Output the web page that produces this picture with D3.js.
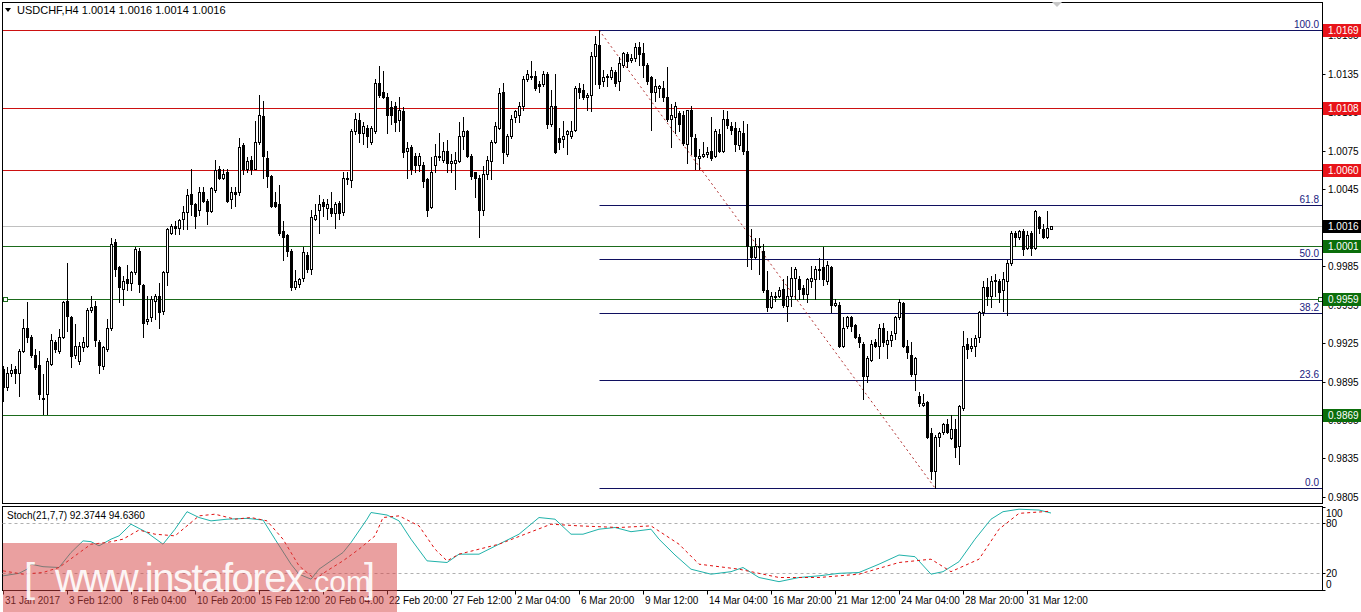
<!DOCTYPE html>
<html><head><meta charset="utf-8">
<script src="https://cdn.jsdelivr.net/npm/d3@7"></script>
<style>body{margin:0;background:#fff}svg{display:block}text{font-family:"Liberation Sans","DejaVu Sans",sans-serif}</style>
</head><body>
<svg id="c" width="1361" height="612"></svg>
<script>
// ---------- DATA ----------
const symbolTitle = "USDCHF,H4  1.0014 1.0016 1.0014 1.0016";
const stochTitle = "Stoch(21,7,7) 92.3744 94.6360";
const open=[0.9905,0.9891,0.9902,0.9905,0.9902,0.9919,0.9937,0.9930,0.9916,0.9908,
0.9882,0.9885,0.9909,0.9926,0.9919,0.9930,0.9958,0.9945,0.9916,0.9911,
0.9922,0.9923,0.9951,0.9954,0.9926,0.9907,0.9920,0.9937,1.0004,0.9984,
0.9967,0.9975,0.9972,0.9980,0.9997,0.9970,0.9942,0.9945,0.9958,0.9962,
0.9950,0.9980,1.0011,1.0016,1.0015,1.0022,1.0027,1.0041,1.0033,1.0029,
1.0043,1.0036,1.0028,1.0044,1.0061,1.0054,1.0058,1.0037,1.0043,1.0043,
1.0079,1.0061,1.0068,1.0061,1.0082,1.0102,1.0069,1.0055,1.0035,1.0033,
1.0012,1.0009,0.9997,0.9969,0.9971,0.9976,0.9994,0.9983,1.0022,1.0029,
1.0035,1.0030,1.0030,1.0026,1.0034,1.0027,1.0054,1.0052,1.0090,1.0099,
1.0089,1.0093,1.0082,1.0090,1.0128,1.0121,1.0117,1.0109,1.0110,1.0099,
1.0106,1.0075,1.0078,1.0071,1.0064,1.0064,1.0053,1.0031,1.0064,1.0071,
1.0068,1.0075,1.0065,1.0065,1.0067,1.0086,1.0090,1.0071,1.0058,1.0054,
1.0029,1.0057,1.0067,1.0082,1.0093,1.0121,1.0072,1.0086,1.0101,1.0103,
1.0110,1.0131,1.0133,1.0133,1.0127,1.0127,1.0135,1.0096,1.0110,1.0085,
1.0084,1.0088,1.0086,1.0091,1.0124,1.0122,1.0117,1.0118,1.0149,1.0157,
1.0129,1.0132,1.0132,1.0136,1.0129,1.0142,1.0150,1.0146,1.0147,1.0156,
1.0151,1.0142,1.0132,1.0121,1.0124,1.0124,1.0117,1.0100,1.0101,1.0104,
1.0103,1.0080,1.0107,1.0085,1.0069,1.0071,1.0072,1.0075,1.0071,1.0088,
1.0075,1.0100,1.0094,1.0093,1.0079,1.0089,1.0075,1.0000,0.9992,1.0001,
0.9997,0.9966,0.9953,0.9962,0.9962,0.9967,0.9954,0.9962,0.9976,0.9975,
0.9968,0.9963,0.9973,0.9975,0.9982,0.9984,0.9973,0.9984,0.9955,0.9955,
0.9923,0.9938,0.9945,0.9939,0.9930,0.9924,0.9899,0.9912,0.9926,0.9923,
0.9937,0.9924,0.9927,0.9933,0.9945,0.9956,0.9923,0.9916,0.9901,0.9884,
0.9877,0.9879,0.9855,0.9825,0.9852,0.9856,0.9862,0.9851,0.9858,0.9845,
0.9874,0.9924,0.9921,0.9923,0.9930,0.9949,0.9969,0.9962,0.9973,0.9973,
0.9966,0.9973,0.9987,1.0011,1.0008,1.0012,0.9999,1.0011,0.9999,1.0023,
1.0014,1.0008,1.0014];
const high=[0.9907,0.9906,0.9909,0.9907,0.9920,0.9944,0.9957,0.9931,0.9920,0.9919,
0.9901,0.9913,0.9932,0.9927,0.9936,0.9958,0.9987,0.9946,0.9940,0.9926,
0.9930,0.9952,0.9962,0.9958,0.9927,0.9923,0.9944,1.0007,1.0006,0.9985,
0.9977,0.9986,0.9981,1.0000,0.9999,0.9971,0.9962,0.9962,0.9963,0.9972,
0.9981,1.0015,1.0018,1.0020,1.0022,1.0032,1.0045,1.0061,1.0034,1.0047,
1.0047,1.0037,1.0047,1.0068,1.0063,1.0061,1.0061,1.0047,1.0047,1.0085,
1.0081,1.0070,1.0071,1.0098,1.0118,1.0114,1.0075,1.0056,1.0043,1.0048,
1.0020,1.0010,0.9998,0.9982,0.9976,1.0000,0.9996,1.0029,1.0033,1.0040,
1.0037,1.0037,1.0043,1.0035,1.0036,1.0058,1.0058,1.0092,1.0104,1.0104,
1.0097,1.0095,1.0094,1.0131,1.0141,1.0137,1.0120,1.0114,1.0113,1.0117,
1.0109,1.0082,1.0079,1.0073,1.0073,1.0066,1.0054,1.0070,1.0080,1.0089,
1.0082,1.0083,1.0072,1.0074,1.0097,1.0101,1.0091,1.0072,1.0058,1.0056,
1.0063,1.0071,1.0083,1.0097,1.0124,1.0128,1.0088,1.0103,1.0107,1.0113,
1.0133,1.0138,1.0145,1.0137,1.0129,1.0137,1.0136,1.0122,1.0135,1.0093,
1.0098,1.0091,1.0098,1.0125,1.0128,1.0127,1.0120,1.0152,1.0164,1.0169,
1.0138,1.0135,1.0140,1.0138,1.0148,1.0152,1.0152,1.0150,1.0159,1.0160,
1.0159,1.0143,1.0133,1.0131,1.0126,1.0129,1.0140,1.0111,1.0113,1.0106,
1.0106,1.0107,1.0110,1.0088,1.0076,1.0082,1.0078,1.0101,1.0092,1.0092,
1.0107,1.0106,1.0097,1.0097,1.0093,1.0098,1.0096,1.0014,1.0007,1.0007,
1.0002,0.9981,0.9965,0.9965,0.9969,0.9975,0.9977,0.9984,0.9984,0.9977,
0.9970,0.9976,0.9985,0.9985,0.9991,1.0000,0.9989,0.9985,0.9959,0.9957,
0.9945,0.9946,0.9946,0.9940,0.9932,0.9926,0.9915,0.9927,0.9928,0.9940,
0.9941,0.9934,0.9934,0.9946,0.9959,0.9957,0.9927,0.9926,0.9914,0.9887,
0.9885,0.9880,0.9859,0.9853,0.9856,0.9863,0.9866,0.9869,0.9866,0.9877,
0.9934,0.9929,0.9929,0.9931,0.9950,0.9973,0.9976,0.9977,0.9979,0.9975,
0.9980,0.9990,1.0012,1.0012,1.0013,1.0014,1.0012,1.0012,1.0029,1.0024,
1.0018,1.0028,1.0016];
const low=[0.9880,0.9888,0.9899,0.9894,0.9884,0.9918,0.9926,0.9914,0.9905,0.9881,
0.9870,0.9870,0.9908,0.9918,0.9917,0.9929,0.9934,0.9906,0.9913,0.9909,
0.9919,0.9922,0.9949,0.9923,0.9902,0.9905,0.9919,0.9935,0.9977,0.9957,
0.9955,0.9966,0.9966,0.9979,0.9965,0.9930,0.9940,0.9942,0.9944,0.9937,
0.9948,0.9970,1.0010,1.0010,1.0010,1.0014,1.0014,1.0025,1.0015,1.0025,
1.0035,1.0018,1.0027,1.0043,1.0053,1.0053,1.0035,1.0030,1.0032,1.0040,
1.0057,1.0058,1.0057,1.0061,1.0080,1.0054,1.0047,1.0031,1.0031,1.0009,
0.9990,0.9993,0.9966,0.9967,0.9969,0.9973,0.9980,0.9979,1.0021,1.0011,
1.0024,1.0022,1.0024,1.0015,1.0022,1.0025,1.0049,1.0047,1.0088,1.0082,
1.0080,1.0078,1.0080,1.0089,1.0117,1.0116,1.0089,1.0096,1.0090,1.0090,
1.0070,1.0054,1.0057,1.0058,1.0059,1.0047,1.0024,1.0030,1.0058,1.0068,
1.0066,1.0058,1.0058,1.0045,1.0066,1.0076,1.0070,1.0053,1.0039,1.0008,
1.0025,1.0053,1.0053,1.0081,1.0092,1.0065,1.0071,1.0085,1.0097,1.0097,
1.0107,1.0129,1.0131,1.0122,1.0121,1.0125,1.0093,1.0094,1.0073,1.0076,
1.0078,1.0072,1.0085,1.0090,1.0116,1.0115,1.0107,1.0106,1.0127,1.0124,
1.0125,1.0125,1.0131,1.0125,1.0122,1.0140,1.0140,1.0144,1.0145,1.0142,
1.0132,1.0127,1.0091,1.0114,1.0117,1.0114,1.0098,1.0078,1.0089,1.0090,
1.0079,1.0065,1.0072,1.0061,1.0061,1.0070,1.0070,1.0068,1.0070,1.0074,
1.0074,1.0093,1.0088,1.0075,1.0076,1.0072,0.9985,0.9983,0.9991,0.9979,
0.9965,0.9950,0.9952,0.9958,0.9961,0.9953,0.9942,0.9954,0.9959,0.9959,
0.9959,0.9957,0.9969,0.9959,0.9975,0.9970,0.9971,0.9949,0.9954,0.9922,
0.9922,0.9937,0.9934,0.9929,0.9922,0.9881,0.9895,0.9911,0.9922,0.9913,
0.9923,0.9913,0.9923,0.9928,0.9944,0.9922,0.9913,0.9899,0.9888,0.9876,
0.9876,0.9851,0.9819,0.9812,0.9845,0.9854,0.9855,0.9850,0.9836,0.9831,
0.9873,0.9913,0.9919,0.9915,0.9926,0.9947,0.9955,0.9953,0.9962,0.9957,
0.9950,0.9947,0.9986,1.0001,1.0006,0.9994,0.9998,0.9994,0.9998,1.0011,
1.0007,1.0007,1.0014];
const close=[0.9891,0.9902,0.9904,0.9902,0.9919,0.9937,0.9930,0.9916,0.9906,0.9885,
0.9881,0.9911,0.9927,0.9920,0.9930,0.9957,0.9946,0.9915,0.9923,0.9923,
0.9926,0.9951,0.9953,0.9927,0.9908,0.9922,0.9937,1.0002,0.9983,0.9969,
0.9973,0.9972,0.9980,0.9998,0.9971,0.9941,0.9944,0.9959,0.9962,0.9949,
0.9980,1.0014,1.0016,1.0015,1.0021,1.0027,1.0040,1.0033,1.0024,1.0043,
1.0036,1.0028,1.0046,1.0060,1.0054,1.0057,1.0036,1.0043,1.0041,1.0078,
1.0061,1.0067,1.0061,1.0082,1.0103,1.0071,1.0055,1.0032,1.0032,1.0011,
1.0008,0.9997,0.9969,0.9973,0.9975,0.9996,0.9983,1.0023,1.0025,1.0033,
1.0032,1.0033,1.0026,1.0033,1.0026,1.0054,1.0053,1.0090,1.0100,1.0089,
1.0094,1.0086,1.0093,1.0128,1.0118,1.0117,1.0103,1.0103,1.0097,1.0107,
1.0074,1.0077,1.0061,1.0064,1.0071,1.0051,1.0029,1.0058,1.0071,1.0070,
1.0075,1.0065,1.0067,1.0068,1.0086,1.0090,1.0071,1.0055,1.0054,1.0029,
1.0057,1.0068,1.0082,1.0094,1.0120,1.0074,1.0086,1.0100,1.0106,1.0110,
1.0131,1.0135,1.0132,1.0124,1.0125,1.0135,1.0096,1.0110,1.0074,1.0082,
1.0086,1.0090,1.0090,1.0124,1.0121,1.0117,1.0118,1.0149,1.0158,1.0127,
1.0132,1.0133,1.0138,1.0128,1.0143,1.0151,1.0145,1.0147,1.0156,1.0150,
1.0142,1.0129,1.0121,1.0125,1.0125,1.0117,1.0100,1.0103,1.0110,1.0096,
1.0081,1.0107,1.0086,1.0071,1.0071,1.0072,1.0074,1.0069,1.0090,1.0075,
1.0100,1.0095,1.0091,1.0080,1.0090,1.0075,1.0001,0.9992,1.0001,1.0000,
0.9966,0.9953,0.9962,0.9961,0.9966,0.9955,0.9962,0.9976,0.9983,0.9967,
0.9963,0.9975,0.9976,0.9983,0.9983,0.9975,0.9986,0.9955,0.9956,0.9923,
0.9937,0.9945,0.9938,0.9930,0.9926,0.9899,0.9913,0.9924,0.9923,0.9937,
0.9926,0.9927,0.9931,0.9945,0.9957,0.9923,0.9918,0.9901,0.9913,0.9878,
0.9878,0.9852,0.9825,0.9852,0.9855,0.9862,0.9856,0.9858,0.9844,0.9876,
0.9923,0.9920,0.9923,0.9929,0.9949,0.9969,0.9962,0.9973,0.9974,0.9965,
0.9975,0.9987,1.0011,1.0008,1.0012,0.9998,1.0009,0.9999,1.0028,1.0015,
1.0008,1.0015,1.0016];

const timeLabels=["31 Jan 2017","3 Feb 12:00","8 Feb 04:00","10 Feb 20:00","15 Feb 12:00","20 Feb 04:00","22 Feb 20:00","27 Feb 12:00","2 Mar 04:00","6 Mar 20:00","9 Mar 12:00","14 Mar 04:00","16 Mar 20:00","21 Mar 12:00","24 Mar 04:00","28 Mar 20:00","31 Mar 12:00"];
const timeLabelBars=[0,16,32,48,64,80,96,112,128,144,160,176,192,208,224,240,256];
const priceTicks=[0.9805,0.9835,0.9865,0.9895,0.9925,0.9955,0.9985,1.0015,1.0045,1.0075,1.0105,1.0135,1.0165];
const redLevels=[1.0169,1.0108,1.0060];
const greenLevels=[1.0001,0.9959,0.9869];
const currentPrice=1.0016;
const fibRatios=[100,61.8,50,38.2,23.6,0];
const fibHighPrice=1.0169, fibLowPrice=0.9812, fibHighBar=149, fibLowBar=233;
const stochLevels=[20,80];
const stochAxis=[100,80,20,0];
const stochMainBars=[0,4,6,7,10,14,17,20,22,24,27,29,32,36,40,43,46,49,52,56,61,65,68,72,74,77,79,82,85,87,91,92,96,99,102,106,111,114,119,124,129,134,138,142,145,149,153,157,162,164,168,172,177,182,185,189,194,199,204,209,214,219,224,228,232,235,239,243,247,250,254,259,262];
const stochMain=[17,20,25,31,28,27,45,59,58,53,61,65,79,69,55,73,94,87,83,85,86,84,61,31,19,13,25,35,45,57,85,93,90,83,61,35,33,43,43,55,67,87,85,67,67,73,75,70,73,61,42,25,19,22,27,15,10,15,17,20,21,31,42,40,19,22,34,61,85,94,97,96,92.4];
const stochSigBars=[0,5,10,14,18,22,26,30,34,38,43,46,49,53,58,62,66,70,74,78,81,85,89,93,95,99,104,108,111,114,124,137,144,154,162,169,174,184,194,204,214,224,232,237,244,249,254,262];
const stochSignal=[23,19,21,27,41,55,57,61,72,67,65,77,89,91,85,87,83,61,29,13,23,35,49,65,87,89,77,49,35,43,55,79,77,75,77,55,31,25,15,15,19,33,37,22,37,73,92,94.6];

// ---------- LAYOUT ----------
const svg=d3.select("#c");
const L=2.5,R=1322.5,T=2.5,B=503.5,ST=506.5,SB=590.5;
const x=d3.scaleLinear().domain([0,262]).range([3,1051]);
const y=d3.scaleLinear().domain([fibLowPrice,fibHighPrice]).range([488,30]);
const ys=d3.scaleLinear().domain([0,100]).range([590,506.7]);
const px=v=>Math.round(v)+0.5;

svg.append("rect").attr("width",1361).attr("height",612).attr("fill","#fff");

const main=svg.append("g");
svg.append("clipPath").attr("id","cm").append("rect").attr("x",L).attr("y",T).attr("width",R-L).attr("height",B-T);
const gm=main.append("g").attr("clip-path","url(#cm)");

// current price line
gm.append("line").attr("x1",L).attr("x2",R).attr("y1",px(y(currentPrice))).attr("y2",px(y(currentPrice))).attr("stroke","#c0c0c0");
// horizontal levels
gm.selectAll(".rl").data(redLevels).join("line").attr("x1",L).attr("x2",R)
 .attr("y1",d=>px(y(d))).attr("y2",d=>px(y(d))).attr("stroke","#cc1111");
gm.selectAll(".gl").data(greenLevels).join("line").attr("x1",L).attr("x2",R)
 .attr("y1",d=>px(y(d))).attr("y2",d=>px(y(d))).attr("stroke","#1b6b1b");
// fib lines
const fibPrice=r=>fibLowPrice+(fibHighPrice-fibLowPrice)*r/100;
gm.selectAll(".fl").data(fibRatios).join("line").attr("x1",px(x(fibHighBar))).attr("x2",R)
 .attr("y1",d=>px(y(fibPrice(d)))).attr("y2",d=>px(y(fibPrice(d)))).attr("stroke","#101060");
gm.selectAll(".ft").data(fibRatios).join("text").attr("x",1319).attr("y",d=>y(fibPrice(d))-2)
 .attr("text-anchor","end").attr("font-size",10).attr("fill","#202080").text(d=>d.toFixed(1));
// diagonal
gm.append("line").attr("x1",x(fibHighBar)).attr("y1",y(fibHighPrice)).attr("x2",x(fibLowBar)).attr("y2",y(fibLowPrice))
 .attr("stroke","#b03030").attr("stroke-dasharray","2,3");

// candles
const idx=d3.range(open.length);
const cg=gm.append("g").attr("shape-rendering","crispEdges");
cg.selectAll(".w").data(idx).join("line").attr("x1",i=>px(x(i))).attr("x2",i=>px(x(i)))
 .attr("y1",i=>Math.round(y(high[i]))).attr("y2",i=>Math.round(y(low[i]))+1).attr("stroke","#000");
cg.selectAll(".b").data(idx).join("rect")
 .attr("x",i=>Math.round(x(i))-0.5).attr("width",2)
 .attr("y",i=>Math.round(y(Math.max(open[i],close[i])))+0.5)
 .attr("height",i=>Math.max(0,Math.round(y(Math.min(open[i],close[i])))-Math.round(y(Math.max(open[i],close[i])))))
 .attr("fill",i=>close[i]>=open[i]?"#fff":"#000").attr("stroke","#000");

// markers
svg.append("rect").attr("x",3.5).attr("y",px(y(0.9959))-2).attr("width",4).attr("height",4).attr("fill","#fff").attr("stroke","#1b6b1b");
svg.append("rect").attr("x",1318.5).attr("y",px(y(0.9959))-2).attr("width",4).attr("height",4).attr("fill","#fff").attr("stroke","#1b6b1b");

// frames
svg.append("rect").attr("x",L).attr("y",T).attr("width",R-L).attr("height",B-T).attr("fill","none").attr("stroke","#000");
svg.append("rect").attr("x",L).attr("y",ST).attr("width",R-L).attr("height",SB-ST).attr("fill","none").attr("stroke","#000");

// price axis
const ax=svg.append("g").attr("font-size",10);
ax.selectAll("line").data(priceTicks).join("line").attr("x1",R).attr("x2",R+3)
 .attr("y1",d=>px(y(d))).attr("y2",d=>px(y(d))).attr("stroke","#000");
ax.selectAll("text").data(priceTicks).join("text").attr("x",1328).attr("y",d=>y(d)+4).attr("fill","#000").text(d=>d.toFixed(4));
// price boxes
const boxes=[...redLevels.map(v=>({v,c:"#e8141a"})),...greenLevels.map(v=>({v,c:"#0b6e0b"})),{v:currentPrice,c:"#000"}];
const bg=svg.append("g");
bg.selectAll("rect").data(boxes).join("rect").attr("x",1323).attr("y",d=>Math.round(y(d.v))-6).attr("width",38).attr("height",13).attr("fill",d=>d.c);
bg.selectAll("text").data(boxes).join("text").attr("x",1328).attr("y",d=>Math.round(y(d.v))+4).attr("font-size",10).attr("fill","#fff").text(d=>d.v.toFixed(4));

// title
svg.append("path").attr("d","M5,8 L11,8 L8,12 Z").attr("fill","#000");
svg.append("text").attr("x",17).attr("y",14).attr("font-size",11).attr("fill","#000").text(symbolTitle);
svg.append("path").attr("d","M1052,2 L1062,2 L1057,7 Z").attr("fill","#c8c8c8");

// stochastic panel
const sg=svg.append("g");
sg.selectAll(".lv").data(stochLevels).join("line").attr("x1",L).attr("x2",R)
 .attr("y1",d=>px(ys(d))).attr("y2",d=>px(ys(d))).attr("stroke","#b0b0b0").attr("stroke-dasharray","3,3");
const lineM=d3.line().x((d,i)=>x(stochMainBars[i])).y(d=>ys(d));
sg.append("path").attr("d",lineM(stochMain)).attr("fill","none").attr("stroke","#20b2aa").attr("stroke-width",1);
const lineS=d3.line().x((d,i)=>x(stochSigBars[i])).y(d=>ys(d));
sg.append("path").attr("d",lineS(stochSignal)).attr("fill","none").attr("stroke","#e01010").attr("stroke-dasharray","3,3");
sg.append("text").attr("x",7).attr("y",519).attr("font-size",10).attr("fill","#000").text(stochTitle);
sg.selectAll(".sa").data(stochAxis).join("text").attr("x",1326)
 .attr("y",d=>Math.min(Math.max(ys(d),513),584)+4).attr("font-size",10).attr("fill","#000").text(d=>d);
sg.selectAll(".st").data(stochAxis).join("line").attr("x1",R).attr("x2",R+3)
 .attr("y1",d=>px(ys(d))).attr("y2",d=>px(ys(d))).attr("stroke","#000");

// time axis
const tg=svg.append("g");
tg.selectAll("line").data(timeLabelBars).join("line").attr("x1",d=>px(x(d))).attr("x2",d=>px(x(d)))
 .attr("y1",SB).attr("y2",SB+4).attr("stroke","#000");
tg.selectAll("text").data(timeLabels).join("text").attr("x",(d,i)=>x(timeLabelBars[i])+2).attr("y",604)
 .attr("font-size",10).attr("fill","#000").text(d=>d);

// watermark
const wm=svg.append("g");
wm.append("rect").attr("x",3).attr("y",543).attr("width",394).attr("height",69).attr("fill","rgb(214,66,66)").attr("opacity",0.5);
wm.append("text").attr("x",24).attr("y",592).attr("font-size",40).attr("fill","#fff").attr("opacity",0.9).text("[");
wm.append("text").attr("x",55).attr("y",592).attr("font-size",40).attr("fill","#fff").attr("opacity",0.9).attr("textLength",250).text("www.instaforex");
wm.append("text").attr("x",306).attr("y",592).attr("font-size",30).attr("fill","#fff").attr("opacity",0.9).text(".com");
wm.append("text").attr("x",364).attr("y",592).attr("font-size",40).attr("fill","#fff").attr("opacity",0.9).text("]");
</script>
</body></html>
